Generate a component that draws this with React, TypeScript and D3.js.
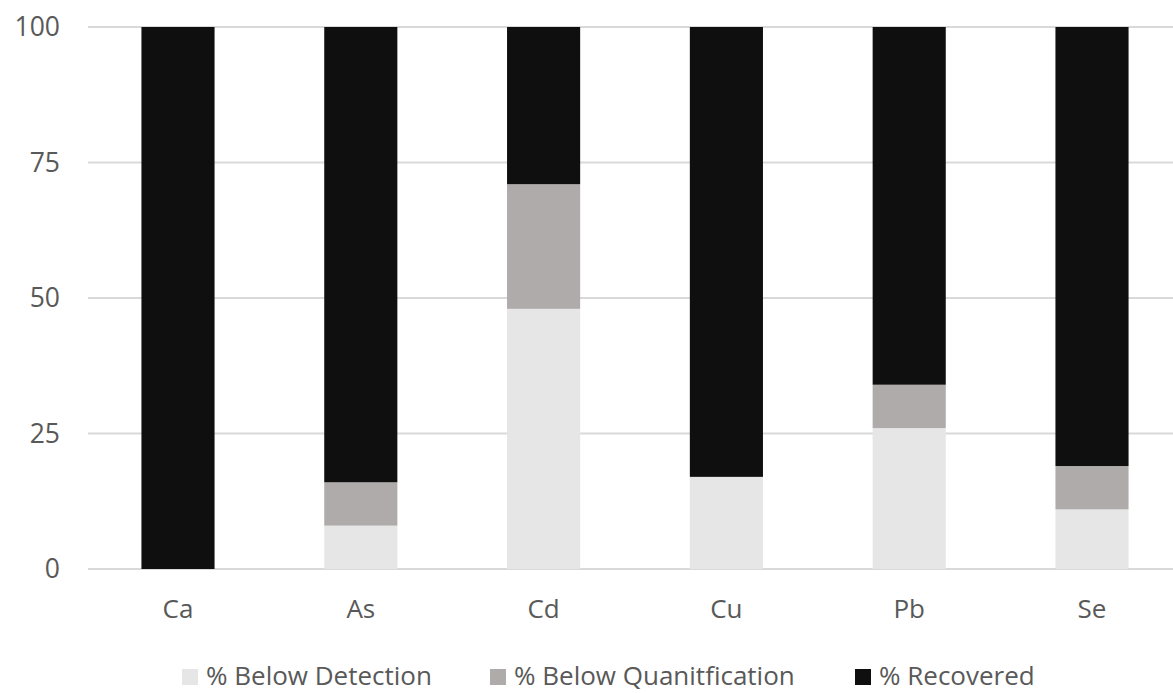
import React from "react";
import * as d3 from "d3";

const categories = ["Ca", "As", "Cd", "Cu", "Pb", "Se"];
const belowDetection = [0, 8, 48, 17, 26, 11];
const belowQuantification = [0, 8, 23, 0, 8, 8];
const recovered = [100, 84, 29, 83, 66, 81];
const yTicks = [0, 25, 50, 75, 100];
const seriesNames = ["% Below Detection", "% Below Quanitfication", "% Recovered"];
const seriesColors = ["#e6e6e6", "#afabab", "#0f0f0f"];

export default function App() {
  const W = 1173, H = 693;
  const x = d3.scaleBand<string>().domain(categories).range([86.6, 1183.4]).paddingInner(0.6).paddingOuter(0.3);
  const y = d3.scaleLinear().domain([0, 100]).range([569, 27]);
  const rows = categories.map((c, i) => ({ cat: c, d: belowDetection[i], q: belowQuantification[i], r: recovered[i] }));
  const stack = d3.stack<any>().keys(["d", "q", "r"])(rows);
  const font = "'Open Sans', 'Noto Sans', sans-serif";
  const legendX = [182, 490, 855];
  return (
    <svg width={W} height={H} style={{ position: "absolute", left: 0, top: 0, background: "#fff" }}>
      {yTicks.map((t) => (
        <g key={t}>
          <line x1={88} x2={1173} y1={y(t)} y2={y(t)} stroke="#d9d9d9" strokeWidth={2} />
          <text x={60} y={y(t)} dy="0.35em" textAnchor="end" fontFamily={font} fontSize={26.5} fill="#595959">{t}</text>
        </g>
      ))}
      {stack.map((s, si) => (
        <g key={si}>
          {s.map((p, i) => {
            const h = y(p[0]) - y(p[1]);
            if (h <= 0) return null;
            return <rect key={i} x={x(categories[i])!} width={x.bandwidth()} y={y(p[1])} height={h} fill={seriesColors[si]} />;
          })}
        </g>
      ))}
      {categories.map((c) => (
        <text key={c} x={x(c)! + x.bandwidth() / 2} y={609} textAnchor="middle" dy="0.35em" fontFamily={font} fontSize={26} fill="#595959">{c}</text>
      ))}
      {seriesNames.map((n, i) => (
        <g key={n}>
          <rect x={legendX[i]} y={669} width={16} height={16} fill={seriesColors[i]} />
          <text x={legendX[i] + 24} y={676} dy="0.35em" fontFamily={font} fontSize={26} fill="#595959">{n}</text>
        </g>
      ))}
    </svg>
  );
}
